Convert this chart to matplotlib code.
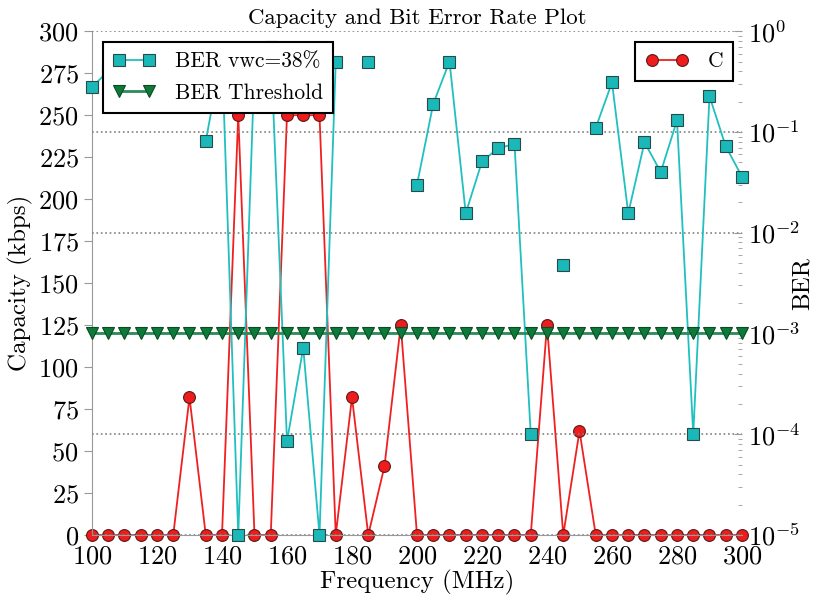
import numpy as np
import matplotlib
matplotlib.use("Agg")
import matplotlib.pyplot as plt

plt.rcParams['font.family'] = 'cmr10'
plt.rcParams['mathtext.fontset'] = 'cm'
plt.rcParams['axes.formatter.use_mathtext'] = True

nan = np.nan

freq = [100, 105, 110, 115, 120, 125, 130, 135, 140, 145,
        150, 155, 160, 165, 170, 175, 180, 185, 190, 195,
        200, 205, 210, 215, 220, 225, 230, 235, 240, 245,
        250, 255, 260, 265, 270, 275, 280, 285, 290, 295,
        300]

capacity = [0, 0, 0, 0, 0, 0, 82, 0, 0, 250,
            0, 0, 250, 250, 250, 0, 82, 0, 41, 125,
            0, 0, 0, 0, 0, 0, 0, 0, 125, 0,
            62, 0, 0, 0, 0, 0, 0, 0, 0, 0,
            0]

ber = [0.28, 0.4, 0.35, 0.5, 0.3, 0.45, nan, 0.081, 0.6, 1e-5,
       0.45, 0.7, 8.5e-5, 7.2e-4, 1e-5, 0.5, nan, 0.5, nan, nan,
       0.03, 0.19, 0.5, 0.0156, 0.051, 0.069, 0.076, 1e-4, nan, 0.0048,
       nan, 0.11, 0.31, 0.0156, 0.079, 0.04, 0.13, 1e-4, 0.226, 0.072,
       0.036]

threshold = [1e-3] * len(freq)

fig = plt.figure(figsize=(8.17, 6.0), dpi=100)
ax1 = fig.add_axes([0.1126, 0.1083, 0.7956, 0.8397])
ax2 = ax1.twinx()

# capacity on the left axis
lc, = ax1.plot(freq, capacity, color='#f02020', marker='o', markersize=8.5,
               markerfacecolor='#ee1c1c', markeredgecolor='#5a1a1a',
               markeredgewidth=0.8, linewidth=1.3, clip_on=False, label='C')
ax1.set_xlim(100, 300)
ax1.set_ylim(0, 300)
ax1.set_yticks(range(0, 301, 25))
ax1.set_xticks(range(100, 301, 20))
ax1.set_xlabel('Frequency (MHz)', fontsize=18, labelpad=1)
ax1.set_ylabel('Capacity (kbps)', fontsize=18, labelpad=4)
ax1.set_title('Capacity and Bit Error Rate Plot', fontsize=16.5, pad=5)

# BER on the right axis
lb, = ax2.plot(freq, ber, color='#20c0c0', marker='s', markersize=9,
               markerfacecolor='#1ab8b8', markeredgecolor='#2a4a4a',
               markeredgewidth=0.8, linewidth=1.3, clip_on=False,
               label='BER vwc=38%')
lt, = ax2.plot(freq, threshold, color='#2e8b57', marker='v', markersize=8.5,
               markerfacecolor='#0e7a3a', markeredgecolor='#0a4a24',
               markeredgewidth=0.8, linewidth=2, clip_on=False,
               label='BER Threshold')
ax2.set_yscale('log')
ax2.set_ylim(1e-5, 1)
ax2.set_ylabel('BER', fontsize=18)
ax2.yaxis.set_label_coords(1.076, 0.5)
ax2.yaxis.grid(True, which='major', linestyle=':', color='gray', linewidth=1.2)

for ax in (ax1, ax2):
    ax.spines['top'].set_visible(False)
    ax.spines['right'].set_visible(False)
    ax.spines['left'].set_color('#999999')
    ax.spines['bottom'].set_color('#999999')
ax2.spines['left'].set_visible(False)
ax2.spines['bottom'].set_visible(False)

ax1.tick_params(axis='y', direction='out', length=6, color='#999999', labelsize=19)
ax1.tick_params(axis='x', length=0, labelsize=19, pad=7)
ax2.tick_params(axis='y', which='major', direction='in', length=6, color='#999999',
                labelsize=19, pad=4)
ax2.tick_params(axis='y', which='minor', direction='in', length=3, color='#999999')

leg1 = ax2.legend(handles=[lb, lt], loc='upper left', numpoints=2,
                  fontsize=15.5, fancybox=False, edgecolor='black', framealpha=1,
                  handlelength=2.0, labelspacing=0.55, handletextpad=0.9,
                  borderpad=0.45,
                  bbox_to_anchor=(0.017, 0.978), borderaxespad=0)
leg1.get_frame().set_linewidth(1.5)
ax2.add_artist(leg1)
leg2 = ax2.legend(handles=[lc], loc='upper right', numpoints=2,
                  fontsize=15.5, fancybox=False, edgecolor='black', framealpha=1,
                  handlelength=2.0, handletextpad=0.9, borderpad=0.45,
                  bbox_to_anchor=(0.986, 0.978), borderaxespad=0)
leg2.get_frame().set_linewidth(1.5)

fig.savefig('out.png', dpi=100)
